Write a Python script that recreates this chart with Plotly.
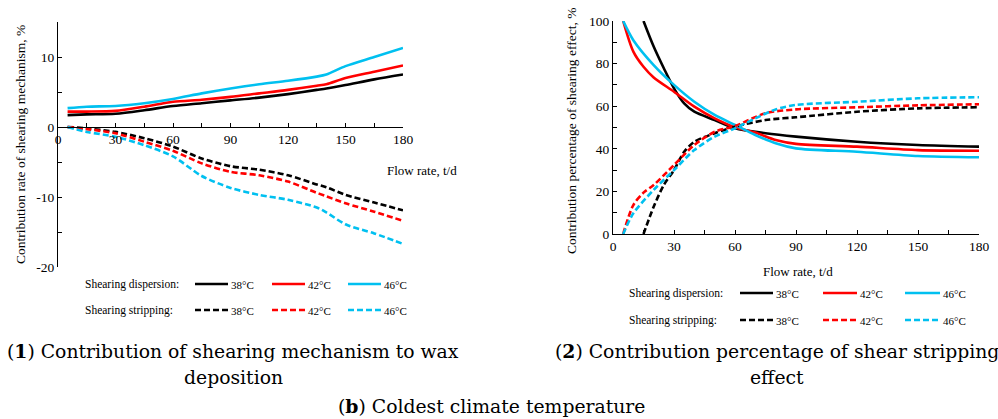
import plotly.graph_objects as go

W, H = 998, 419
def fx(px): return px / W
def fy(py): return 1 - py / H

# ---------------- data: left panel ----------------
flow_l = [5, 15, 30, 45, 60, 75, 90, 105, 120, 135, 140, 150, 165, 180]
disp38_l = [1.7, 1.8, 1.9, 2.4, 3.0, 3.4, 3.8, 4.2, 4.7, 5.3, 5.5, 6.0, 6.8, 7.5]
disp42_l = [2.2, 2.2, 2.3, 2.9, 3.6, 3.9, 4.3, 4.8, 5.3, 5.9, 6.1, 7.0, 7.9, 8.8]
disp46_l = [2.7, 2.9, 3.0, 3.4, 4.0, 4.8, 5.5, 6.1, 6.6, 7.2, 7.5, 8.7, 10.0, 11.3]
strip38_l = [0, -0.2, -0.7, -1.6, -2.8, -4.5, -5.6, -6.1, -6.9, -8.2, -8.6, -9.7, -10.8, -11.9]
strip42_l = [0, -0.3, -0.9, -2.1, -3.4, -5.2, -6.4, -6.9, -7.8, -9.4, -9.9, -10.9, -12.1, -13.4]
strip46_l = [0, -0.7, -1.4, -2.6, -4.2, -7.0, -8.7, -9.7, -10.4, -11.5, -12.2, -13.9, -15.2, -16.7]
ytick_vals_l = [-20, -10, 0, 10]
ytick_text_l = ["-20", "-10", "0", "10"]

# ---------------- data: right panel ----------------
flow_d38 = [15, 20, 25, 30, 35, 40, 50, 60, 75, 90, 120, 150, 180]
disp38_r = [100, 88, 77.8, 68.4, 61.3, 57.4, 53.5, 49.6, 47.3, 45.7, 43.3, 41.8, 41.0]
flow_d42 = [5, 10, 15, 20, 30, 40, 50, 60, 70, 80, 90, 120, 150, 180]
disp42_r = [100, 85.6, 78.5, 73.5, 66.8, 59.8, 54.3, 50.1, 47.6, 44.1, 42.3, 41.0, 39.4, 39.1]
flow_d46 = [5, 10, 20, 30, 40, 50, 60, 70, 80, 90, 120, 150, 180]
disp46_r = [100, 91, 79.3, 70, 62.1, 55.9, 51.2, 46.5, 42.6, 40.2, 38.6, 36.6, 36.0]

flow_s38 = [15, 20, 25, 30, 35, 40, 50, 60, 75, 90, 120, 150, 180]
strip38_r = [0, 12.8, 23, 30, 38.6, 43.3, 47.3, 50.4, 53.5, 54.8, 57.4, 59, 59.5]
flow_s42 = [5, 10, 15, 20, 30, 40, 50, 60, 75, 90, 120, 150, 180]
strip42_r = [0, 13.6, 19.4, 23, 32.4, 41.8, 48, 50.7, 56.7, 58.5, 59.5, 60.4, 60.9]
flow_s46 = [5, 10, 20, 30, 40, 50, 60, 70, 80, 90, 120, 150, 180]
strip46_r = [0, 9.7, 20.7, 30, 39.4, 45.7, 49.6, 54.3, 58.5, 60.6, 62.1, 63.7, 64.2]

temps = ["38°C", "42°C", "46°C"]
colors = ["#000000", "#ff0000", "#00c0f0"]

SERIF = "Liberation Serif"
CAP = "DejaVu Serif"
DASH = "6px,3px"
LW = 2.6

fig = go.Figure()

def add(x, y, color, dash, xa, ya):
    fig.add_trace(go.Scatter(x=x, y=y, mode="lines", xaxis=xa, yaxis=ya,
                             line=dict(color=color, width=LW, dash=dash,
                                       shape="spline", smoothing=0.8),
                             showlegend=False, hoverinfo="skip"))

for yv, c in zip([disp38_l, disp42_l, disp46_l], colors):
    add(flow_l, yv, c, "solid", "x", "y")
for yv, c in zip([strip38_l, strip42_l, strip46_l], colors):
    add(flow_l, yv, c, DASH, "x", "y")

for xv, yv, c in zip([flow_d38, flow_d42, flow_d46], [disp38_r, disp42_r, disp46_r], colors):
    add(xv, yv, c, "solid", "x2", "y2")
for xv, yv, c in zip([flow_s38, flow_s42, flow_s46], [strip38_r, strip42_r, strip46_r], colors):
    add(xv, yv, c, DASH, "x2", "y2")

tickfont = dict(family=SERIF, size=13.5, color="black")
common = dict(showgrid=False, zeroline=False, showline=True, linecolor="black",
              linewidth=1, ticks="inside", ticklen=4, tickcolor="black",
              tickfont=tickfont, automargin=False)

# left panel axes
y0_px = 127
fig.update_layout(
    template="none",
    xaxis=dict(domain=[fx(58), fx(403)], range=[0, 180], tick0=0, dtick=30,
               anchor="free", position=fy(y0_px),
               minor=dict(dtick=15, ticks="inside", ticklen=4, tickcolor="black"),
               **common),
    yaxis=dict(domain=[fy(267), fy(22)], range=[-20, 15],
               tickmode="array", tickvals=ytick_vals_l, ticktext=ytick_text_l,
               anchor="x",
               minor=dict(tick0=0, dtick=5, ticks="inside", ticklen=4, tickcolor="black"),
               **common),
    xaxis2=dict(domain=[fx(613), fx(979)], range=[0, 180], tick0=0, dtick=30,
                anchor="y2",
                minor=dict(dtick=15, ticks="inside", ticklen=4, tickcolor="black"),
                **common),
    yaxis2=dict(domain=[fy(234), fy(21)], range=[0, 100], tick0=0, dtick=20,
                anchor="x2",
                minor=dict(dtick=10, ticks="inside", ticklen=4, tickcolor="black"),
                **common),
)

ann = []
def text(px, py, s, size, family=SERIF, xanchor="center", angle=0):
    ann.append(dict(x=fx(px), y=fy(py), xref="paper", yref="paper", text=s,
                    showarrow=False, xanchor=xanchor, yanchor="middle",
                    textangle=angle,
                    font=dict(family=family, size=size, color="black")))

# axis titles
text(20, 145, "Contribution rate of shearing mechanism, %", 13.5, angle=-90)
text(385, 170, "Flow rate, t/d", 13, xanchor="left")
text(572, 131, "Contribution percentage of shearing effect, %", 13.5, angle=-90)
text(798, 271, "Flow rate, t/d", 13)

# custom legends
shapes = []
def legend_block(x_label, y1, y2, line_x):
    text(x_label, y1, "Shearing dispersion:", 11.5, xanchor="left")
    text(x_label, y2, "Shearing stripping:", 11.5, xanchor="left")
    for (xa, xb), c, t in zip(line_x, colors, temps):
        for yy, dash in [(y1, "solid"), (y2, "dash")]:
            shapes.append(dict(type="line", xref="paper", yref="paper",
                               x0=fx(xa), x1=fx(xb), y0=fy(yy), y1=fy(yy),
                               line=dict(color=c, width=LW,
                                         dash="solid" if dash == "solid" else DASH)))
            text(xb + 1, yy + 1, t, 11, xanchor="left")

legend_block(83, 284, 310, [(195, 228), (272, 305), (348, 381)])
legend_block(627, 293, 320, [(740, 773), (823, 857), (905, 940)])

# captions
CS = 18.8
text(233, 351, "(<b>1</b>) Contribution of shearing mechanism to wax", CS, family=CAP)
text(233, 377, "deposition", CS, family=CAP)
text(777, 351, "(<b>2</b>) Contribution percentage of shear stripping", CS, family=CAP)
text(777, 377, "effect", CS, family=CAP)
text(491, 406, "(<b>b</b>) Coldest climate temperature", CS, family=CAP)

fig.update_layout(width=W, height=H, margin=dict(l=0, r=0, t=0, b=0),
                  paper_bgcolor="white", plot_bgcolor="white",
                  annotations=ann, shapes=shapes, showlegend=False)

fig.write_html("out.html", config={"displayModeBar": False},
               post_script="document.body.style.margin='0';"
                           "document.body.style.padding='0';"
                           "document.body.style.overflow='hidden';")
